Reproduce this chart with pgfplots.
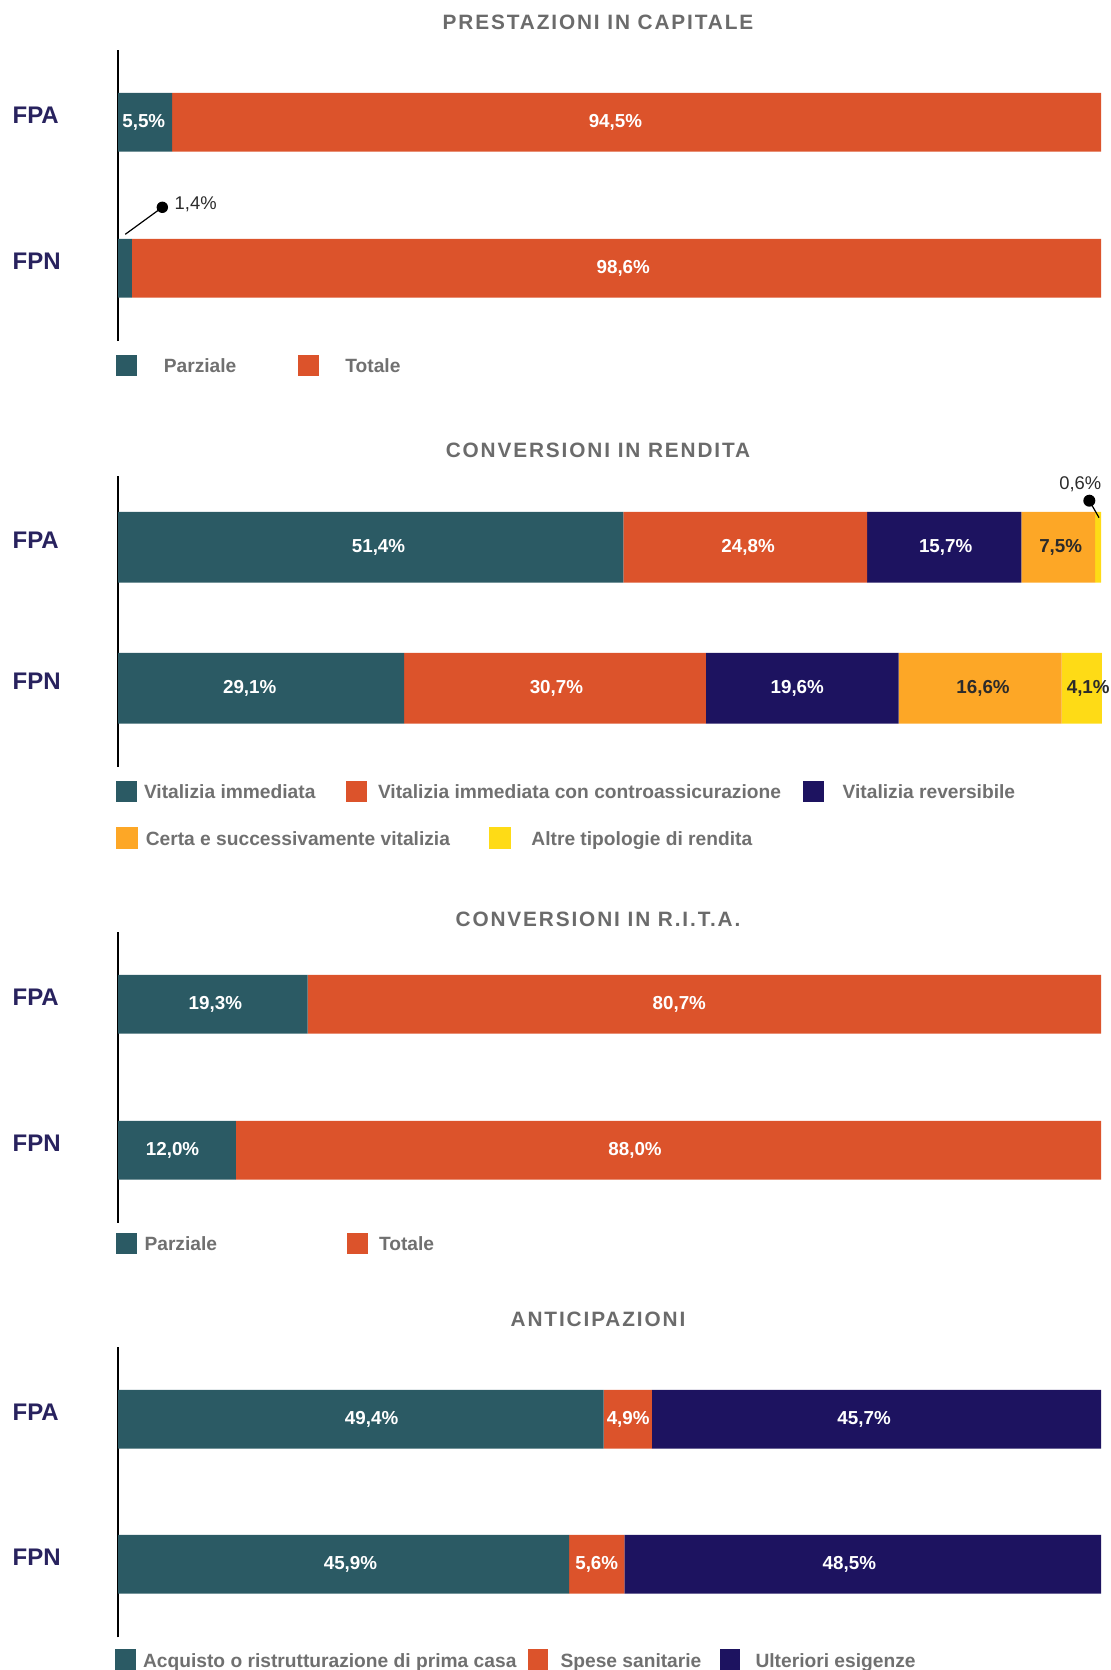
\documentclass[border=0pt]{standalone}
\usepackage{fontspec}
\setmainfont{Liberation Sans}
\newfontfamily\titlefam{Liberation Sans}[LetterSpace=9]
\usepackage{pgfplots}
\pgfplotsset{compat=1.18}

\definecolor{cteal}{HTML}{2B5A64}
\definecolor{corange}{HTML}{DC532B}
\definecolor{cnavy}{HTML}{1D1360}
\definecolor{camber}{HTML}{FDA726}
\definecolor{cyellow}{HTML}{FEDB16}
\definecolor{ctitle}{HTML}{6B6B6B}
\definecolor{clegend}{HTML}{707070}
\definecolor{clabel}{HTML}{28225E}
\definecolor{cdark}{HTML}{2B2B2B}

\newcommand{\vfont}{\fontsize{9.4pt}{11pt}\selectfont\bfseries}
\newcommand{\afont}{\fontsize{9.2pt}{11pt}\selectfont}
\newcommand{\lfont}{\fontsize{9.6pt}{11pt}\selectfont\bfseries}
% legend text: fixed box (height 7pt, no depth) so every entry sits alike
\newcommand{\lt}[2]{\hspace{#1}\raisebox{-1pt}{\smash{#2}}\rule{0pt}{7pt}}
\newcommand{\lw}[3]{\makebox[#1][l]{\lt{#2}{#3}}}

\tikzset{
  vlab/.style={font=\vfont, text=white, anchor=center, inner sep=0pt},
  dlab/.style={font=\vfont, text=cdark, anchor=center, inner sep=0pt},
}
\pgfplotsset{
  sq/.style={legend image code/.code={\fill[#1] (0pt,-5.2pt) rectangle (10.4pt,5.2pt);}},
  legstyle/.style={legend cell align=left, legend columns=-1,
    legend style={draw=none, fill=none, inner sep=0pt, outer sep=0pt,
      /tikz/column sep=0pt, /tikz/row sep=0pt,
      nodes={inner sep=0pt, outer sep=0pt}, font=\lfont, text=clegend, anchor=west}},
  panel/.style={
    xbar stacked, scale only axis, width=491.5pt, xmin=0, xmax=100,
    axis x line=none, axis y line*=left,
    y axis line style={black, line width=0.8pt},
    major tick length=0pt, ytick style={draw=none},
    yticklabel style={anchor=west, inner sep=0pt, xshift=-52.9pt, yshift=3.6pt,
      font=\fontsize{12pt}{14pt}\selectfont\bfseries, text=clabel},
    clip=false, anchor=south west,
    every axis title shift=0pt,
    title style={font=\titlefam\bfseries\fontsize{10.4pt}{12pt}\selectfont, text=ctitle, anchor=center},
    legstyle,
  },
  over/.style={scale only axis, width=491.5pt, xmin=0, xmax=100,
    hide axis, clip=false, anchor=south west, legstyle},
}

\begin{document}
\begin{tikzpicture}
\path[use as bounding box] (0,0) rectangle (555.5pt,-835pt);

% ---------------- Panel 1 ----------------
\begin{axis}[panel, at={(59pt,-170.5pt)}, height=145.5pt,
  ymin=-341, ymax=-50, bar width=58.7,
  ytick={-122.3,-268.3}, yticklabels={FPA,FPN},
  title={PRESTAZIONI IN CAPITALE},
  title style={at={(axis description cs:0.4883,1.0962)}},
  legend style={at={(-0.002,-0.0835)}}]
\addplot[fill=cteal, draw=none, sq=cteal] coordinates {(5.5,-122.3) (1.4,-268.3)};
\addlegendentry{\lw{80.5pt}{13.5pt}{Parziale}}
\addplot[fill=corange, draw=none, sq=corange] coordinates {(94.5,-122.3) (98.6,-268.3)};
\addlegendentry{\lt{13.35pt}{Totale}}
\end{axis}
\begin{axis}[over, at={(59pt,-170.5pt)}, height=145.5pt, ymin=-341, ymax=-50]
\node[vlab] at (axis cs:2.62,-122.3) {5,5\%};
\node[vlab] at (axis cs:50.6,-122.3) {94,5\%};
\node[vlab] at (axis cs:51.4,-268.3) {98,6\%};
\draw[black, line width=0.6pt] (axis cs:0.74,-234.3) -- (axis cs:4.51,-207.3);
\fill[black] (axis cs:4.51,-207.3) circle (2.85pt);
\node[font=\afont, text=cdark, anchor=base west, inner sep=0pt] at (axis cs:5.73,-209.3) {1,4\%};
\end{axis}

% ---------------- Panel 2 ----------------
\begin{axis}[panel, at={(59pt,-383.35pt)}, height=145.5pt,
  ymin=-766.7, ymax=-475.7, bar width=70.7,
  ytick={-547.3,-688.3}, yticklabels={FPA,FPN},
  title={CONVERSIONI IN RENDITA},
  title style={at={(axis description cs:0.4883,1.0866)}},
  legend style={at={(-0.002,-0.0845)}}]
\addplot[fill=cteal, draw=none, sq=cteal] coordinates {(51.4,-547.3) (29.1,-688.3)};
\addlegendentry{\lw{104.6pt}{3.6pt}{Vitalizia immediata}}
\addplot[fill=corange, draw=none, sq=corange] coordinates {(24.8,-547.3) (30.7,-688.3)};
\addlegendentry{\lw{218.1pt}{5.6pt}{Vitalizia immediata con controassicurazione}}
\addplot[fill=cnavy, draw=none, sq=cnavy] coordinates {(15.7,-547.3) (19.6,-688.3)};
\addlegendentry{\lt{9.4pt}{Vitalizia reversibile}}
\addplot[fill=camber, draw=none] coordinates {(7.5,-547.3) (16.6,-688.3)};
\addplot[fill=cyellow, draw=none] coordinates {(0.6,-547.3) (4.1,-688.3)};
\end{axis}
\begin{axis}[over, at={(59pt,-383.35pt)}, height=145.5pt, ymin=-766.7, ymax=-475.7,
  legend style={at={(-0.002,-0.2457)}}]
\addlegendimage{sq=camber}
\addlegendentry{\lw{175.6pt}{4.1pt}{Certa e successivamente vitalizia}}
\addlegendimage{sq=cyellow}
\addlegendentry{\lt{10.5pt}{Altre tipologie di rendita}}
\node[vlab] at (axis cs:26.5,-547.3) {51,4\%};
\node[vlab] at (axis cs:64.1,-547.3) {24,8\%};
\node[vlab] at (axis cs:84.2,-547.3) {15,7\%};
\node[dlab] at (axis cs:95.9,-547.3) {7,5\%};
\node[vlab] at (axis cs:13.4,-688.3) {29,1\%};
\node[vlab] at (axis cs:44.6,-688.3) {30,7\%};
\node[vlab] at (axis cs:69.1,-688.3) {19,6\%};
\node[dlab] at (axis cs:88.0,-688.3) {16,6\%};
\node[dlab] at (axis cs:98.7,-688.3) {4,1\%};
\draw[black, line width=0.6pt] (axis cs:98.81,-500.7) -- (axis cs:99.8,-517.7);
\fill[black] (axis cs:98.81,-500.7) circle (3pt);
\node[font=\afont, text=cdark, anchor=base, inner sep=0pt] at (axis cs:97.9,-489.3) {0,6\%};
\end{axis}

% ---------------- Panel 3 ----------------
\begin{axis}[panel, at={(59pt,-611.35pt)}, height=145.2pt,
  ymin=-1222.7, ymax=-932.3, bar width=58.7,
  ytick={-1004.3,-1150.3}, yticklabels={FPA,FPN},
  title={CONVERSIONI IN R.I.T.A.},
  title style={at={(axis description cs:0.4883,1.0451)}},
  legend style={at={(-0.002,-0.0709)}}]
\addplot[fill=cteal, draw=none, sq=cteal] coordinates {(19.3,-1004.3) (12.0,-1150.3)};
\addlegendentry{\lw{105.1pt}{3.85pt}{Parziale}}
\addplot[fill=corange, draw=none, sq=corange] coordinates {(80.7,-1004.3) (88.0,-1150.3)};
\addlegendentry{\lt{5.6pt}{Totale}}
\end{axis}
\begin{axis}[over, at={(59pt,-611.35pt)}, height=145.2pt, ymin=-1222.7, ymax=-932.3]
\node[vlab] at (axis cs:9.9,-1004.3) {19,3\%};
\node[vlab] at (axis cs:57.1,-1004.3) {80,7\%};
\node[vlab] at (axis cs:5.55,-1150.3) {12,0\%};
\node[vlab] at (axis cs:52.6,-1150.3) {88,0\%};
\end{axis}

% ---------------- Panel 4 ----------------
\begin{axis}[panel, at={(59pt,-818.65pt)}, height=145.3pt,
  ymin=-1637.3, ymax=-1346.7, bar width=58.7,
  ytick={-1419.3,-1564.3}, yticklabels={FPA,FPN},
  title={ANTICIPAZIONI},
  title style={at={(axis description cs:0.4883,1.0953)}},
  legend style={at={(-0.003,-0.0764)}}]
\addplot[fill=cteal, draw=none, sq=cteal] coordinates {(49.4,-1419.3) (45.9,-1564.3)};
\addlegendentry{\lw{195.85pt}{3.6pt}{Acquisto o ristrutturazione di prima casa}}
\addplot[fill=corange, draw=none, sq=corange] coordinates {(4.9,-1419.3) (5.6,-1564.3)};
\addlegendentry{\lw{85.6pt}{6.1pt}{Spese sanitarie}}
\addplot[fill=cnavy, draw=none, sq=cnavy] coordinates {(45.7,-1419.3) (48.5,-1564.3)};
\addlegendentry{\lt{7.6pt}{Ulteriori esigenze}}
\end{axis}
\begin{axis}[over, at={(59pt,-818.65pt)}, height=145.3pt, ymin=-1637.3, ymax=-1346.7]
\node[vlab] at (axis cs:25.8,-1419.3) {49,4\%};
\node[vlab] at (axis cs:51.9,-1419.3) {4,9\%};
\node[vlab] at (axis cs:75.9,-1419.3) {45,7\%};
\node[vlab] at (axis cs:23.65,-1564.3) {45,9\%};
\node[vlab] at (axis cs:48.7,-1564.3) {5,6\%};
\node[vlab] at (axis cs:74.4,-1564.3) {48,5\%};
\end{axis}
\end{tikzpicture}
\end{document}
